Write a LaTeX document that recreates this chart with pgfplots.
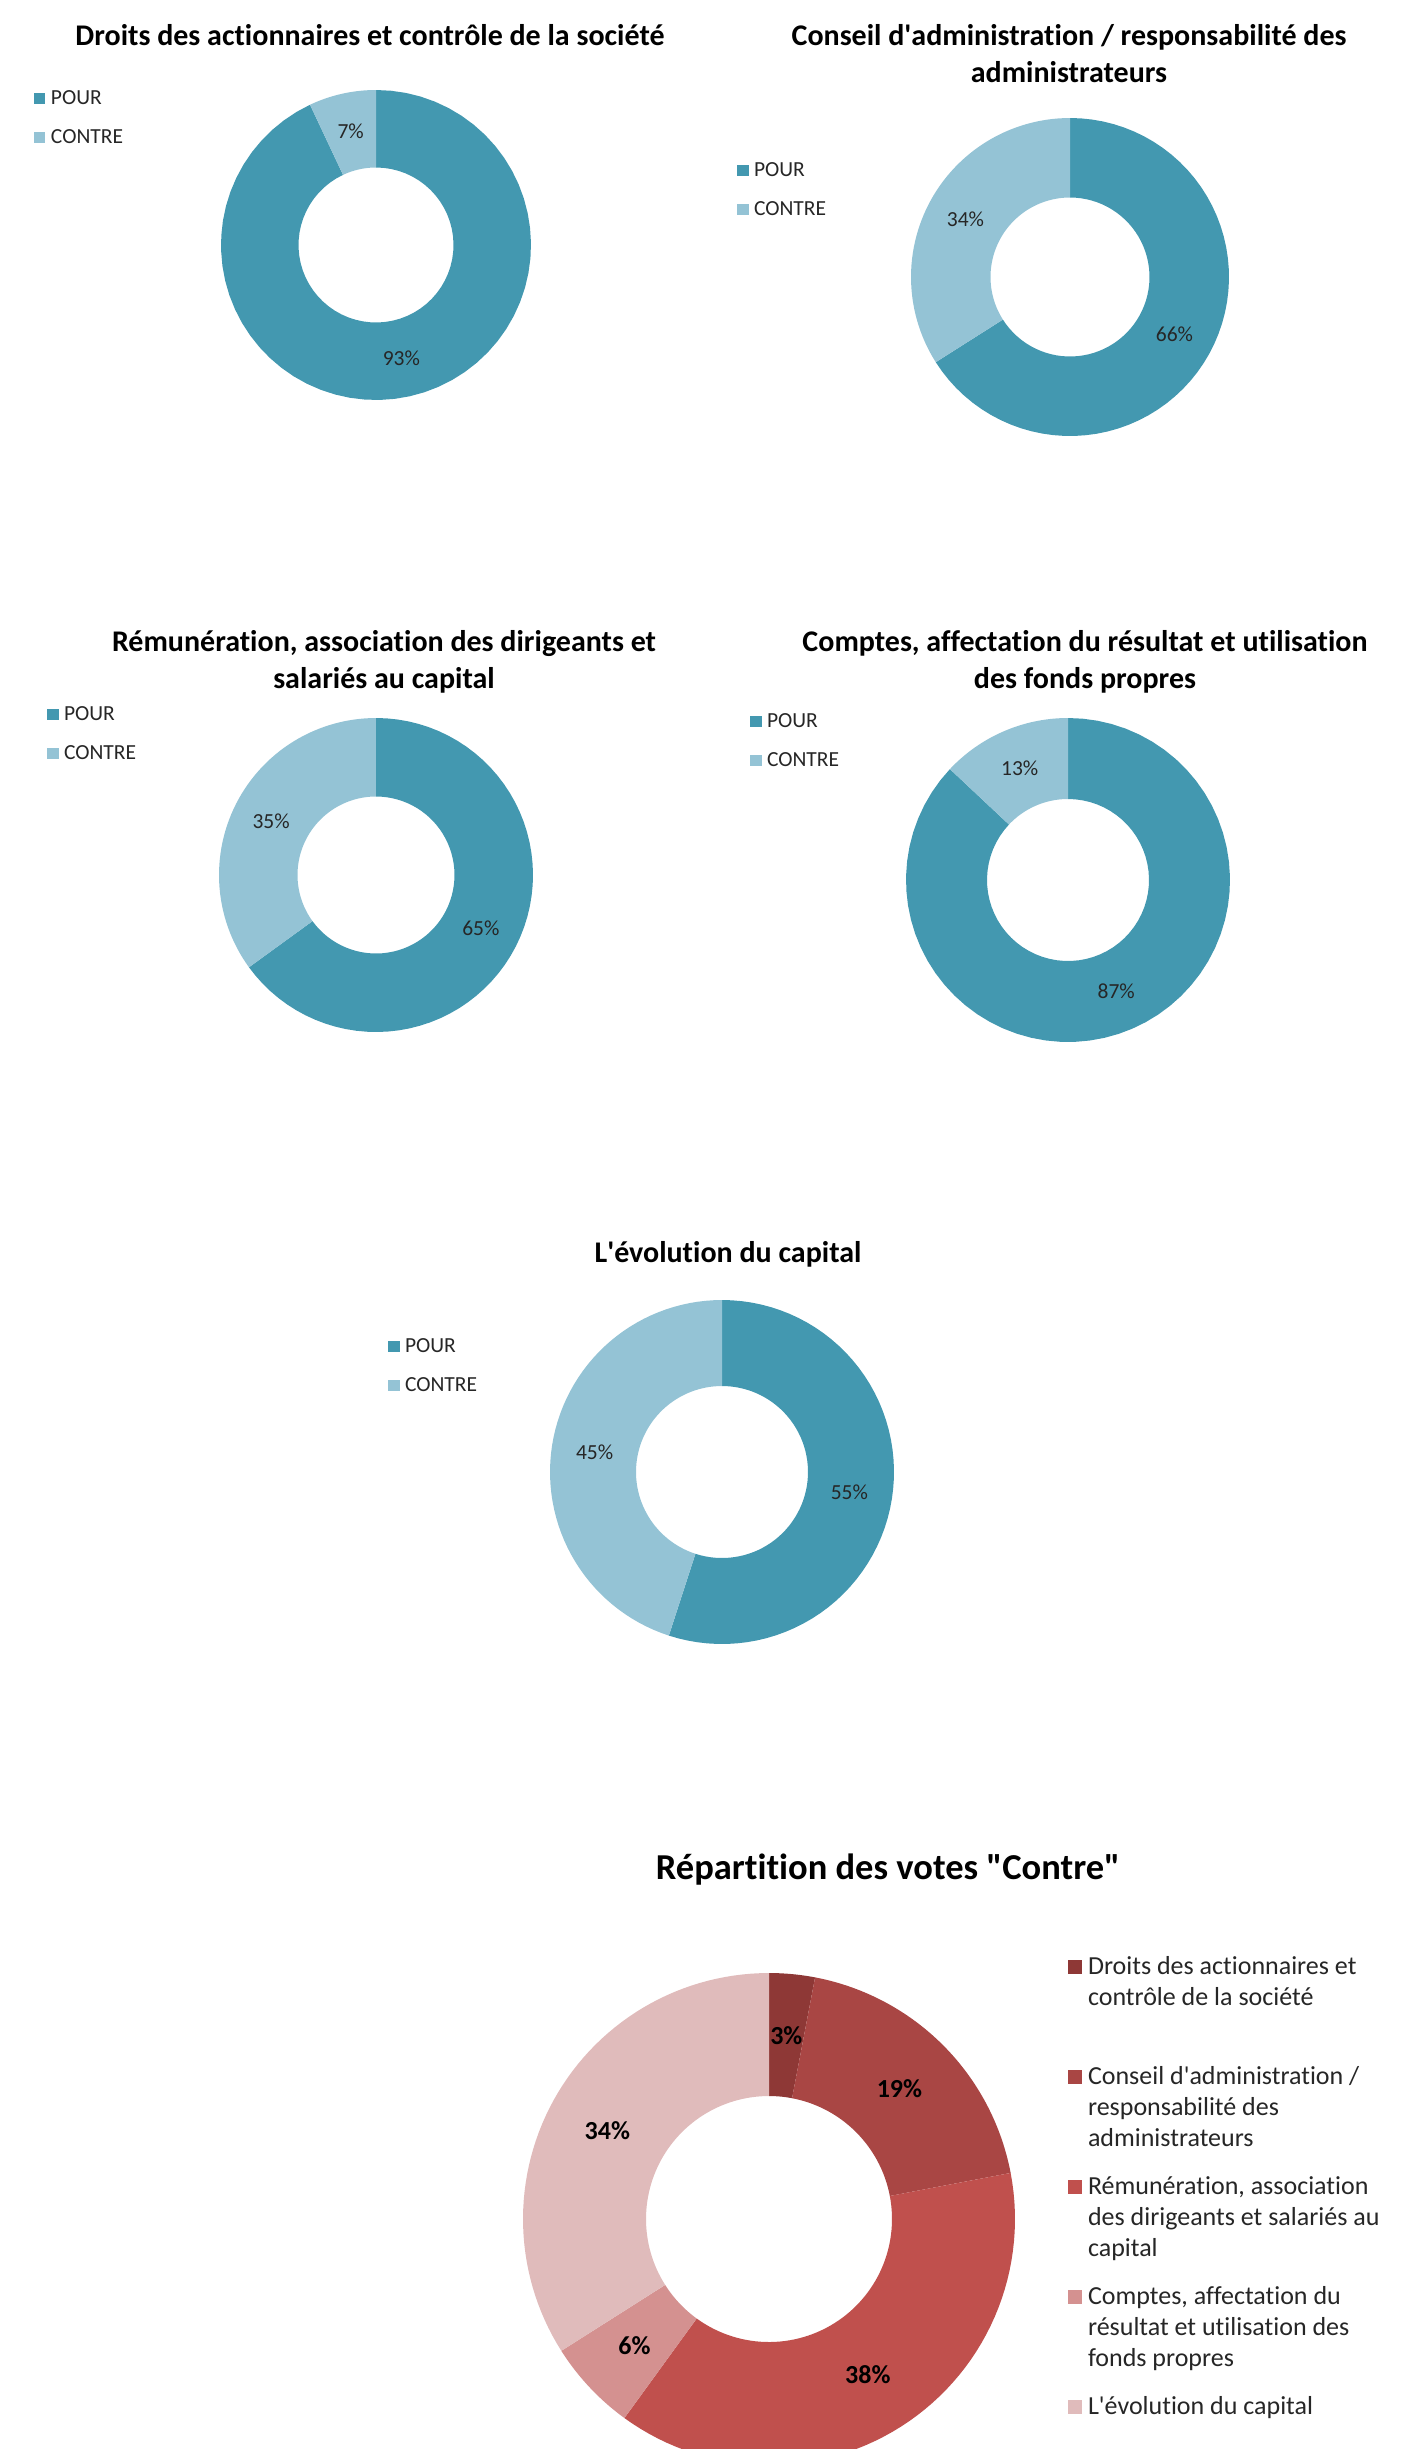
\documentclass[border=0pt]{standalone}
\usepackage{fontspec}
\setmainfont{Carlito}[Ligatures=CommonOff]
\usepackage{pgfplots}
\pgfplotsset{compat=1.18}

\definecolor{pour}{HTML}{4398B0}
\definecolor{contre}{HTML}{94C3D5}
\definecolor{ra}{HTML}{8E3836}
\definecolor{rb}{HTML}{A94644}
\definecolor{rc}{HTML}{C0504D}
\definecolor{rd}{HTML}{D49190}
\definecolor{re}{HTML}{E0BBBB}
\definecolor{txt}{HTML}{262626}

% one ring slice: start (%), value (%), colour; hole = 50 %
\newcommand{\slice}[3]{%
  \addplot[draw=none, fill=#3, domain=0:121, samples=122]
  ({ifthenelse(x<60.5,1,0.5)*sin(3.6*(#1+#2*ifthenelse(x<60.5,x,121-x)/60))},
   {ifthenelse(x<60.5,1,0.5)*cos(3.6*(#1+#2*ifthenelse(x<60.5,x,121-x)/60))});
}
% data label at the middle of a slice (mid-point in %)
\tikzset{lbl/.style={font=\fontsize{8.6pt}{10pt}\selectfont, text=txt, inner sep=0pt},
         lblb/.style={font=\fontsize{10.4pt}{12pt}\selectfont\bfseries, text=black, inner sep=0pt}}
\newcommand{\lab}[3][lbl]{\node[#1] at (axis cs:{0.75*sin(3.6*#2)},{0.75*cos(3.6*#2)}) {#3};}

\pgfplotsset{
  donut/.style={
    scale only axis, anchor=center, hide axis, clip=false,
    xmin=-1, xmax=1, ymin=-1, ymax=1,
    every axis title/.style={at={(0.5,1)}, anchor=base, align=center, inner sep=0pt,
      font=\fontsize{12pt}{14.6pt}\selectfont\bfseries, text=black},
    legend cell align=left,
    legend image code/.code={\fill[##1] (0pt,0pt) rectangle (4.6pt,4.6pt);},
    legend style={at={(0,1)}, anchor=north west, draw=none, fill=none,
      inner sep=0pt, outer sep=0pt, row sep=0pt, column sep=2.2pt,
      font=\fontsize{8.6pt}{10pt}\selectfont, text=txt,
      cells={anchor=base west},
      nodes={inner sep=0pt, text height=7pt, text depth=8.6pt}},
  },
}

\begin{document}
\begin{tikzpicture}
\useasboundingbox (0,0) rectangle (561.2pt,-979.6pt);
\clip (0,0) rectangle (561.2pt,-979.6pt);

% ---------- 1
\begin{axis}[donut, at={(150.4pt,-98pt)}, width=124pt, height=124pt,
  title={Droits des actionnaires et contrôle de la société},
  title style={xshift=-2.4pt, yshift=18pt},
  legend style={xshift=-74.8pt, yshift=1.4pt}]
\slice{0}{93}{pour}\addlegendentry{POUR}
\slice{93}{7}{contre}\addlegendentry{CONTRE}
\lab{46.5}{93\%}
\lab{96.5}{7\%}
\end{axis}

% ---------- 2
\begin{axis}[donut, at={(428pt,-110.8pt)}, width=127.2pt, height=127.2pt,
  title={Conseil d\textquotesingle administration / responsabilité des\\administrateurs},
  title style={xshift=-0.4pt, yshift=14.4pt},
  legend style={xshift=-69.6pt, yshift=-16.2pt}]
\slice{0}{66}{pour}\addlegendentry{POUR}
\slice{66}{34}{contre}\addlegendentry{CONTRE}
\lab{33}{66\%}
\lab{83}{34\%}
\end{axis}

% ---------- 3
\begin{axis}[donut, at={(150.4pt,-350pt)}, width=125.6pt, height=125.6pt,
  title={Rémunération, association des dirigeants et\\salariés au capital},
  title style={xshift=3.2pt, yshift=12pt},
  legend style={xshift=-68.8pt, yshift=6.2pt}]
\slice{0}{65}{pour}\addlegendentry{POUR}
\slice{65}{35}{contre}\addlegendentry{CONTRE}
\lab{32.5}{65\%}
\lab{82.5}{35\%}
\end{axis}

% ---------- 4
\begin{axis}[donut, at={(427.2pt,-352pt)}, width=129.6pt, height=129.6pt,
  title={Comptes, affectation du résultat et utilisation\\des fonds propres},
  title style={xshift=6.8pt, yshift=12pt},
  legend style={xshift=-62.4pt, yshift=3.4pt}]
\slice{0}{87}{pour}\addlegendentry{POUR}
\slice{87}{13}{contre}\addlegendentry{CONTRE}
\lab{43.5}{87\%}
\lab{93.5}{13\%}
\end{axis}

% ---------- 5
\begin{axis}[donut, at={(288.8pt,-588.8pt)}, width=137.6pt, height=137.6pt,
  title={L\textquotesingle évolution du capital},
  title style={xshift=2.4pt, yshift=15.2pt},
  legend style={xshift=-64.8pt, yshift=-13.8pt}]
\slice{0}{55}{pour}\addlegendentry{POUR}
\slice{55}{45}{contre}\addlegendentry{CONTRE}
\lab{27.5}{55\%}
\lab{77.5}{45\%}
\end{axis}

% ---------- 6
\begin{axis}[donut, at={(307.6pt,-887.6pt)}, width=196.8pt, height=196.8pt,
  title={Répartition des votes \textquotedbl Contre\textquotedbl},
  title style={xshift=47.6pt, yshift=37.6pt, font=\fontsize{14.6pt}{17pt}\selectfont\bfseries},
  legend image code/.code={\fill[#1] (0pt,0pt) rectangle (5.6pt,5.6pt);},
  legend style={xshift=218pt, yshift=7.6pt, column sep=2.4pt,
    font=\fontsize{10.4pt}{12.4pt}\selectfont,
    nodes={text height=8pt, text depth=36pt}}]
\slice{0}{3}{ra}\addlegendentry{\parbox[t]{130pt}{\raggedright Droits des actionnaires et\\contrôle de la société}}
\slice{3}{19}{rb}\addlegendentry{\parbox[t]{130pt}{\raggedright Conseil d\textquotesingle administration /\\responsabilité des\\administrateurs}}
\slice{22}{38}{rc}\addlegendentry{\parbox[t]{130pt}{\raggedright Rémunération, association\\des dirigeants et salariés au\\capital}}
\slice{60}{6}{rd}\addlegendentry{\parbox[t]{130pt}{\raggedright Comptes, affectation du\\résultat et utilisation des\\fonds propres}}
\slice{66}{34}{re}\addlegendentry{\parbox[t]{130pt}{\raggedright L\textquotesingle évolution du capital}}
\lab[lblb]{1.5}{3\%}
\lab[lblb]{12.5}{19\%}
\lab[lblb]{41}{38\%}
\lab[lblb]{63}{6\%}
\lab[lblb]{83}{34\%}
\end{axis}
\end{tikzpicture}
\end{document}
